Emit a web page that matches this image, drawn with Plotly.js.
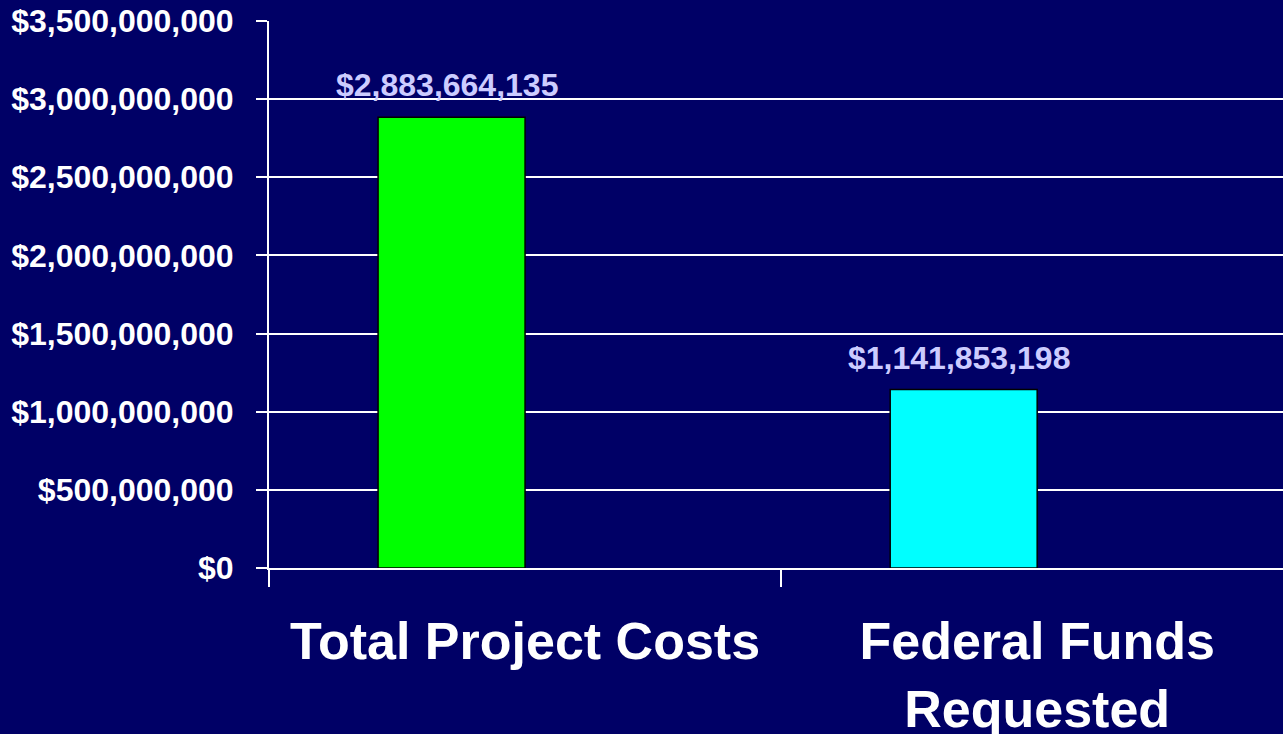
<!DOCTYPE html>
<html>
<head>
<meta charset="utf-8">
<script src="https://cdn.plot.ly/plotly-3.0.1.min.js"></script>
<style>
  html, body { margin: 0; padding: 0; background: #000066; }
  #chart { width: 1283px; height: 734px; }
</style>
</head>
<body>
<div id="chart"></div>
<script>
const categories = ['Total Project Costs', 'Federal Funds<br>Requested'];
const values = [2883664135, 1141853198];
const barColors = ['#00FF00', '#00FFFF'];
const yTickVals = [0, 500000000, 1000000000, 1500000000, 2000000000, 2500000000, 3000000000, 3500000000];

const fmt = v => '$' + v.toLocaleString('en-US');

const FONT = 'Liberation Sans, Arial, Helvetica, sans-serif';

const trace = {
  type: 'bar',
  x: categories,
  y: values,
  width: 0.287,
  offset: -0.287,
  marker: { color: barColors, line: { color: '#000000', width: 1.5 } },
  hoverinfo: 'skip'
};

const annotations = categories.map((c, i) => ({
  x: i - 0.153,
  y: values[i],
  xref: 'x', yref: 'y',
  text: fmt(values[i]),
  showarrow: false,
  yanchor: 'bottom',
  xanchor: 'center',
  yshift: 12,
  font: { family: FONT, size: 32, color: '#CCCCFF', weight: 'bold' }
}));

const layout = {
  width: 1283,
  height: 734,
  paper_bgcolor: '#000066',
  plot_bgcolor: '#000066',
  margin: { l: 269, r: 0, t: 21, b: 166, pad: 0 },
  showlegend: false,
  bargap: 0,
  xaxis: {
    type: 'category',
    range: [-0.5, 1.48],
    tickson: 'boundaries',
    ticks: 'outside',
    ticklen: 17,
    tickwidth: 2,
    tickcolor: '#FFFFFF',
    showline: true,
    linecolor: '#FFFFFF',
    linewidth: 2,
    showgrid: false,
    zeroline: false,
    ticklabelstandoff: 27,
    tickfont: { family: FONT, size: 52, color: '#FFFFFF', weight: 'bold' }
  },
  yaxis: {
    range: [0, 3500000000],
    tickmode: 'array',
    tickvals: yTickVals,
    ticktext: yTickVals.map(fmt),
    ticks: 'outside',
    ticklen: 11,
    tickwidth: 2,
    tickcolor: '#FFFFFF',
    showline: true,
    linecolor: '#FFFFFF',
    linewidth: 2,
    showgrid: true,
    gridcolor: '#FFFFFF',
    gridwidth: 2,
    zeroline: false,
    ticklabelstandoff: 16,
    tickfont: { family: FONT, size: 32, color: '#FFFFFF', weight: 'bold' }
  },
  annotations: annotations
};

Plotly.newPlot('chart', [trace], layout, { displayModeBar: false, staticPlot: true });
</script>
</body>
</html>
